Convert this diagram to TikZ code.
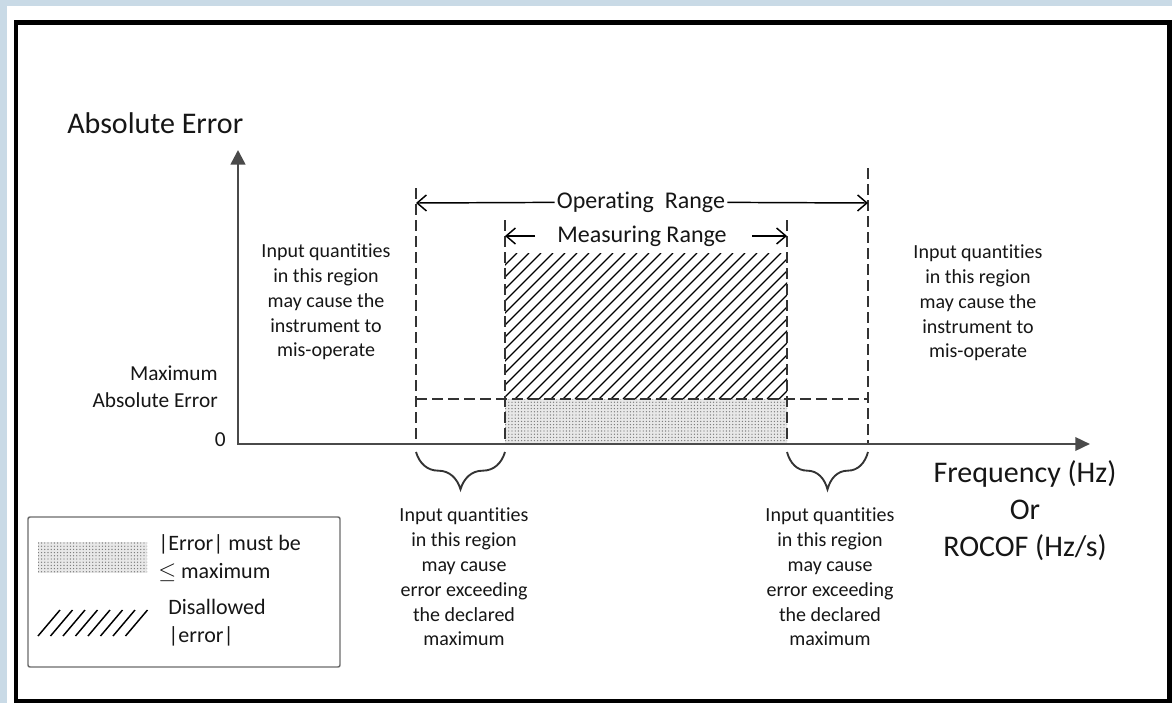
\documentclass[tikz,border=0pt]{standalone}
\usepackage{fontspec}
\setmainfont{Carlito}[Ligatures=NoCommon]
\usetikzlibrary{arrows.meta,decorations.pathreplacing,patterns.meta}
\definecolor{bgblue}{HTML}{C9DAE6}
\definecolor{txt}{HTML}{161616}
\definecolor{axisgray}{HTML}{4A4A4A}
\definecolor{dashgray}{HTML}{333333}
\definecolor{leggray}{HTML}{6A6A6A}
\tikzset{
 small/.style={font=\fontsize{15pt}{18.6pt}\selectfont, text=txt, align=center, inner sep=0pt},
 big/.style={font=\fontsize{22.5pt}{27.75pt}\selectfont, text=txt, align=center, inner sep=0pt},
 rangelbl/.style={font=\fontsize{18pt}{20pt}\selectfont, text=txt, fill=white, inner xsep=1.5pt, inner ysep=1pt},
 ylbl/.style={font=\fontsize{16pt}{19pt}\selectfont, text=txt, anchor=east, inner sep=0pt},
 leglbl/.style={font=\fontsize{16.5pt}{21pt}\selectfont, text=txt, anchor=west, inner sep=0pt, align=left},
 axisline/.style={draw=axisgray, line width=1.9pt, {Triangle[length=11pt,width=11pt]}-{Triangle[length=11pt,width=10pt]}},
 guide/.style={draw=dashgray, line width=1.5pt, dash pattern=on 8pt off 4pt},
 rangearrow/.style={draw=black, line width=1.1pt, -{Straight Barb[length=7pt,width=12pt]}},
 bracestyle/.style={draw=dashgray, line width=1.4pt, decorate, decoration={brace, mirror, amplitude=28pt}},
 dotfill/.style={pattern={Dots[distance=2.4pt, radius=0.5pt]}, pattern color=black!55},
 hatchline/.style={draw=black, line width=1pt},
}
\begin{document}
\begin{tikzpicture}[x=0.75pt,y=-0.75pt]
\useasboundingbox (0,0) rectangle (1172,703);
% background and frame
\fill[bgblue] (0,0) rectangle (1172,703);
\fill[white] (7,6) rectangle (1172,703);
\draw[black, line width=3.3pt] (16,22.5) rectangle (1169.5,701.5);

% coordinates
\coordinate (O) at (238,444);
\coordinate (xend) at (1090,444);
\coordinate (yend) at (238,150);
\coordinate (opTop) at (416,188);
\coordinate (opBot) at (416,444);
\coordinate (orTop) at (868,168);
\coordinate (orBot) at (868,444);
\coordinate (msTopL) at (505,220);
\coordinate (msBotL) at (505,444);
\coordinate (msTopR) at (787,220);
\coordinate (msBotR) at (787,444);
\coordinate (maxL) at (416,399);
\coordinate (maxR) at (868,399);
\coordinate (opL) at (416,203);
\coordinate (opR) at (868,203);
\coordinate (msL) at (505,236);
\coordinate (msR) at (787,236);
\coordinate (msa) at (535,236);
\coordinate (msb) at (752,236);
\coordinate (brLa) at (416,452);
\coordinate (brLb) at (505,452);
\coordinate (brRa) at (787,452);
\coordinate (brRb) at (868,452);

% dotted region
\fill[gray!18] (505,399) rectangle (787,444);
\fill[dotfill] (505,399) rectangle (787,444);
% hatched region
\begin{scope}
\clip (505,253) rectangle (787,399);
\foreach \i in {0,...,40} { \draw[hatchline] ({359+12*\i},399) -- ({505+12*\i},253); }
\end{scope}

% guides
\draw[guide] (opTop) -- (opBot);
\draw[guide] (orTop) -- (orBot);
\draw[guide] (msTopL) -- (msBotL);
\draw[guide] (msTopR) -- (msBotR);
\draw[guide] (maxL) -- (maxR);

% axes
\draw[axisline] (yend) -- (O) -- (xend);

% range labels and arrows
\node[rangelbl] (oplbl) at (641,202) {Operating\ \ Range};
\draw[rangearrow] (oplbl) -- (opL);
\draw[rangearrow] (oplbl) -- (opR);
\node[rangelbl, fill=none] (mslbl) at (642,236) {Measuring Range};
\draw[rangearrow] (msa) -- (msL);
\draw[rangearrow] (msb) -- (msR);

% braces
\draw[bracestyle] (brLa) -- (brLb);
\draw[bracestyle] (brRa) -- (brRb);

% axis labels
\node[big, anchor=west] (ytitle) at (67,123) {Absolute Error};
\node[big] (xtitle) at (1025,511) {Frequency (Hz)\\Or\\ROCOF (Hz/s)};
\node[ylbl] (maxlbl) at (218,373) {Maximum};
\node[ylbl] (abslbl) at (218,400) {Absolute Error};
\node[ylbl] (zerolbl) at (226,440) {0};

% region texts
\node[small] (ul) at (326,302) {Input quantities\\in this region\\may cause the\\instrument to\\mis-operate};
\node[small] (ur) at (978,303) {Input quantities\\in this region\\may cause the\\instrument to\\mis-operate};
\node[small] (ll) at (464,577) {Input quantities\\in this region\\may cause\\error exceeding\\the declared\\maximum};
\node[small] (lr) at (830,577) {Input quantities\\in this region\\may cause\\error exceeding\\the declared\\maximum};

% legend
\draw[leggray, line width=1.1pt, rounded corners=1.5pt] (28,517) rectangle (340,667);
\fill[gray!18] (38,542) rectangle (147,573);
\fill[dotfill] (38,542) rectangle (147,573);
\foreach \i in {0,...,7} { \draw[hatchline, line width=1.1pt] ({38+12.5*\i},636) -- ({60+12.5*\i},610); }
\node[leglbl] (leg1) at (158,558) {|Error| must be\\$\leq$ maximum};
\node[leglbl] (leg2) at (168,622.5) {Disallowed\\|error|};
\end{tikzpicture}
\end{document}
